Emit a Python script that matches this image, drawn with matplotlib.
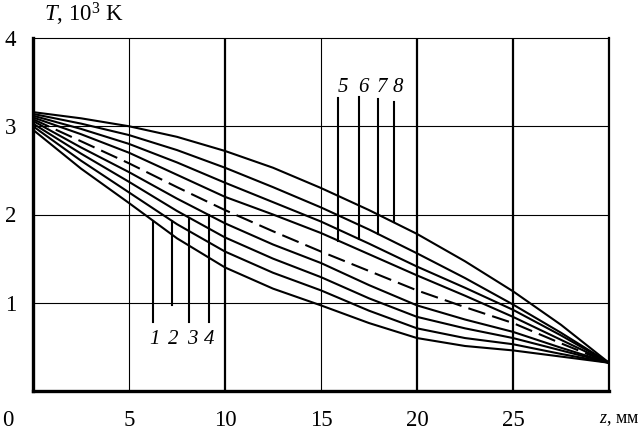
import numpy as np
import matplotlib
matplotlib.use("Agg")
import matplotlib.pyplot as plt

# ── Data ──────────────────────────────────────────────────────────────
z_mm = [0, 2.5, 5, 7.5, 10, 12.5, 15, 17.5, 20, 22.5, 25, 27.5, 30]

T_1 = [2.96, 2.52, 2.13, 1.73, 1.40, 1.16, 0.97, 0.77, 0.60, 0.51, 0.46, 0.39, 0.32]
T_2 = [3.00, 2.61, 2.25, 1.89, 1.58, 1.34, 1.14, 0.91, 0.71, 0.60, 0.53, 0.42, 0.32]
T_3 = [3.03, 2.69, 2.37, 2.04, 1.74, 1.50, 1.29, 1.05, 0.84, 0.71, 0.60, 0.46, 0.32]
T_4 = [3.06, 2.76, 2.48, 2.18, 1.90, 1.66, 1.45, 1.20, 0.97, 0.81, 0.67, 0.49, 0.32]
T_dashed = [3.08, 2.83, 2.58, 2.31, 2.05, 1.81, 1.58, 1.36, 1.14, 0.95, 0.77, 0.54, 0.32]
T_5 = [3.10, 2.91, 2.70, 2.45, 2.20, 2.00, 1.79, 1.55, 1.31, 1.08, 0.84, 0.58, 0.32]
T_6 = [3.12, 2.97, 2.80, 2.59, 2.36, 2.14, 1.92, 1.67, 1.41, 1.17, 0.92, 0.63, 0.32]
T_7 = [3.14, 3.03, 2.90, 2.73, 2.53, 2.31, 2.08, 1.83, 1.56, 1.28, 0.98, 0.66, 0.32]
T_8 = [3.16, 3.09, 3.00, 2.88, 2.72, 2.53, 2.30, 2.05, 1.78, 1.47, 1.13, 0.75, 0.32]

curve_labels = ["1", "2", "3", "4", "5", "6", "7", "8"]
curves = [T_1, T_2, T_3, T_4, T_5, T_6, T_7, T_8]

x_ticks = [5, 10, 15, 20, 25]
y_ticks = [1, 2, 3, 4]

# leader lines: z position, free end of the line, label position
leader_z = [6.25, 7.24, 8.13, 9.17, 15.9, 17.0, 17.97, 18.8]
leader_end = [0.78, 0.97, 0.78, 0.78, 3.32, 3.33, 3.31, 3.27]
label_z = [6.35, 7.3, 8.3, 9.2, 16.15, 17.2, 18.2, 19.0]
label_T = [0.58, 0.58, 0.58, 0.58, 3.44, 3.44, 3.44, 3.44]

# ── Style ─────────────────────────────────────────────────────────────
plt.rcParams["font.family"] = ["Liberation Serif", "DejaVu Serif"]
plt.rcParams["mathtext.fontset"] = "custom"
plt.rcParams["mathtext.rm"] = "Liberation Serif"
plt.rcParams["mathtext.it"] = "Liberation Serif:italic"
FS = 15
FS_AX = 16.5
LW = 1.5

fig = plt.figure(figsize=(6.44, 4.34), dpi=100)
ax = fig.add_axes([33 / 644, 1 - 391 / 434, 576 / 644, 353 / 434])
ax.set_xlim(0, 30)
ax.set_ylim(0, 4)

# grid with the uneven line weights of the original
for x, w in zip(x_ticks, [0.8, 1.6, 0.8, 1.6, 1.6]):
    ax.axvline(x, color="black", lw=w, zorder=1)
for y in [1, 2, 3]:
    ax.axhline(y, color="black", lw=0.8, zorder=1)

for side, w in [("left", 2.4), ("bottom", 2.4), ("top", 0.8), ("right", 1.6)]:
    ax.spines[side].set_linewidth(w)

# ── Curves ────────────────────────────────────────────────────────────
for T in curves:
    ax.plot(z_mm, T, color="black", lw=LW, solid_capstyle="butt", zorder=3)
ax.plot(z_mm, T_dashed, color="black", lw=LW, linestyle=(0, (8.5, 3.5)), zorder=3)

# leader lines and curve numbers
for zl, end, lz, lt, T, lab in zip(leader_z, leader_end, label_z, label_T, curves, curve_labels):
    on_curve = np.interp(zl, z_mm, T)
    ax.plot([zl, zl], [on_curve, end], color="black", lw=LW, zorder=3)
    ax.text(lz, lt, lab, fontsize=FS, fontstyle="italic", ha="center", va="center")

# ── Axes text ─────────────────────────────────────────────────────────
ax.set_xticks(x_ticks)
ax.set_xticklabels([str(v) for v in x_ticks], fontsize=FS_AX)
ax.set_yticks(y_ticks)
ax.set_yticklabels([str(v) for v in y_ticks], fontsize=FS_AX)
ax.tick_params(axis="x", length=0, pad=14)
ax.tick_params(axis="y", length=0, pad=12)

fig.text(8 / 644, 1 - 420 / 434, "0", fontsize=FS_AX, ha="center", va="center")
fig.text(599 / 644, 1 - 420 / 434, "$z$, мм", fontsize=FS - 2, ha="left", va="center")
fig.text(44 / 644, 1 - 22 / 434, "$T$, 10$^3$ K", fontsize=FS_AX, ha="left", va="baseline")

fig.savefig("out.png", dpi=100)
